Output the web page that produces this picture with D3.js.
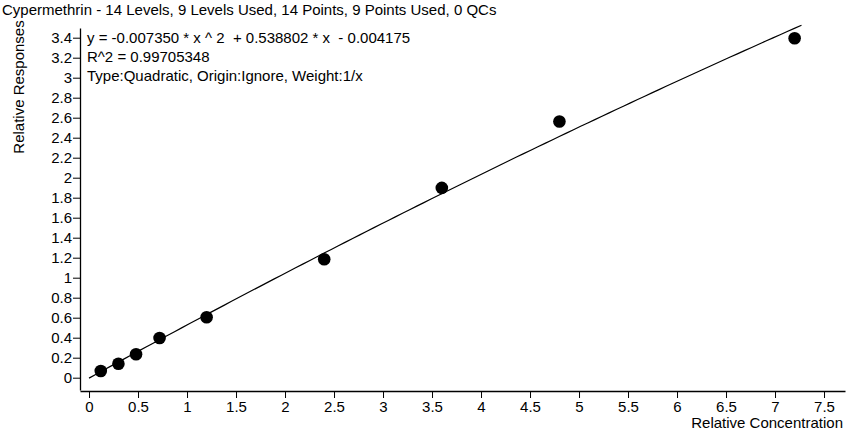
<!DOCTYPE html>
<html>
<head>
<meta charset="utf-8">
<script src="https://cdn.jsdelivr.net/npm/d3@7"></script>
<style>
  html, body { margin: 0; padding: 0; background: #fff; }
  svg { display: block; font-family: "Liberation Sans", Arial, sans-serif; }
  text { white-space: pre; }
</style>
</head>
<body>
<svg id="chart" width="853" height="431"></svg>
<script>
// Calibration levels used and their relative responses
const concentrations = [0.12, 0.30, 0.48, 0.72, 1.2, 2.4, 3.6, 4.8, 7.2];
const responses = [0.067, 0.14, 0.235, 0.397, 0.604, 1.185, 1.898, 2.562, 3.395];

// Quadratic fit coefficients: y = a*x^2 + b*x + c
const fitCoefficients = [-0.007350, 0.538802, -0.004175];
const fitRange = [0, 7.27];

const xTicks = [0, 0.5, 1, 1.5, 2, 2.5, 3, 3.5, 4, 4.5, 5, 5.5, 6, 6.5, 7, 7.5];
const yTicks = [0, 0.2, 0.4, 0.6, 0.8, 1, 1.2, 1.4, 1.6, 1.8, 2, 2.2, 2.4, 2.6, 2.8, 3, 3.2, 3.4];

const titleText = "Cypermethrin - 14 Levels, 9 Levels Used, 14 Points, 9 Points Used, 0 QCs";
const infoLines = [
  "y = -0.007350 * x ^ 2  + 0.538802 * x  - 0.004175",
  "R^2 = 0.99705348",
  "Type:Quadratic, Origin:Ignore, Weight:1/x"
];

const FS = 15;
const svg = d3.select("#chart");

const x = d3.scaleLinear().domain([-0.092, 7.714]).range([80, 845]);
const y = d3.scaleLinear().domain([-0.123, 3.497]).range([390, 28]);

const fmt = d => String(+d.toFixed(1));

// X axis
const xAxis = svg.append("g")
  .attr("transform", "translate(0,391)")
  .call(d3.axisBottom(x).tickValues(xTicks).tickSize(7).tickSizeOuter(0).tickPadding(3).tickFormat(fmt));
xAxis.select(".domain").attr("stroke", "#000").attr("stroke-width", 1.3);
xAxis.selectAll(".tick line").attr("stroke", "#000");
xAxis.selectAll(".tick text").attr("font-size", FS).attr("fill", "#000")
  .attr("font-family", "Liberation Sans, Arial, sans-serif");

// Y axis
const yAxis = svg.append("g")
  .attr("transform", "translate(80,0)")
  .call(d3.axisLeft(y).tickValues(yTicks).tickSize(7).tickSizeOuter(0).tickPadding(1).tickFormat(fmt));
yAxis.select(".domain").attr("stroke", "#000").attr("stroke-width", 1.3);
yAxis.selectAll(".tick line").attr("stroke", "#000");
yAxis.selectAll(".tick text").attr("font-size", FS).attr("fill", "#000")
  .attr("font-family", "Liberation Sans, Arial, sans-serif");

// Fitted calibration curve
const fit = v => fitCoefficients[0] * v * v + fitCoefficients[1] * v + fitCoefficients[2];
const curveX = d3.range(0, 101).map(i => fitRange[0] + (fitRange[1] - fitRange[0]) * i / 100);
svg.append("path")
  .datum(curveX)
  .attr("fill", "none")
  .attr("stroke", "#000")
  .attr("stroke-width", 1.2)
  .attr("d", d3.line().x(d => x(d)).y(d => y(fit(d))));

// Calibration points
svg.append("g").selectAll("circle")
  .data(concentrations.map((c, i) => ({ c, r: responses[i] })))
  .join("circle")
  .attr("cx", d => x(d.c))
  .attr("cy", d => y(d.r))
  .attr("r", 6.3)
  .attr("fill", "#000");

// Title
svg.append("text")
  .attr("x", 2).attr("y", 15)
  .attr("font-size", FS).attr("fill", "#000")
  .text(titleText);

// Equation block
svg.append("g").selectAll("text")
  .data(infoLines)
  .join("text")
  .attr("x", 87)
  .attr("y", (d, i) => 43 + i * 19)
  .attr("font-size", FS).attr("fill", "#000")
  .text(d => d);

// Axis titles
svg.append("text")
  .attr("transform", "translate(24,87) rotate(-90)")
  .attr("text-anchor", "middle")
  .attr("font-size", FS).attr("fill", "#000")
  .text("Relative Responses");

svg.append("text")
  .attr("x", 843).attr("y", 428)
  .attr("text-anchor", "end")
  .attr("font-size", FS).attr("fill", "#000")
  .text("Relative Concentration");
</script>
</body>
</html>
